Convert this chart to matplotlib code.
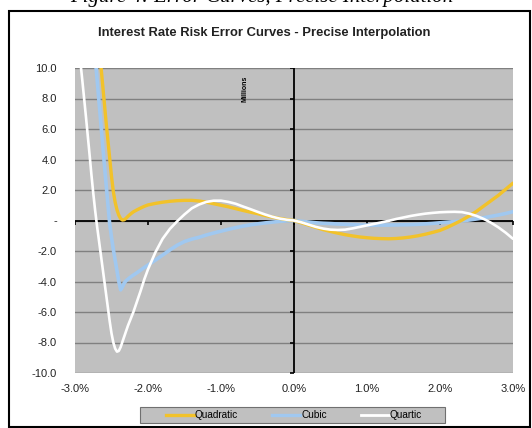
import matplotlib
matplotlib.use("Agg")
import matplotlib.pyplot as plt
from matplotlib.patches import Rectangle
from matplotlib.lines import Line2D

x_pct = [-3.00, -2.95, -2.90, -2.85,
         -2.800, -2.775, -2.750, -2.725, -2.700, -2.675, -2.650, -2.625, -2.600,
         -2.575, -2.550, -2.525, -2.500, -2.475, -2.450, -2.425, -2.400, -2.375,
         -2.350, -2.325, -2.300, -2.275, -2.250, -2.225, -2.200,
         -2.15, -2.10, -2.05,
         -2.00, -1.90, -1.80, -1.70, -1.60, -1.50, -1.40, -1.30, -1.20, -1.10,
         -1.00, -0.90, -0.80, -0.70, -0.60, -0.50, -0.40, -0.30, -0.20, -0.10,
         0.00, 0.10, 0.20, 0.30, 0.40, 0.50, 0.60, 0.70, 0.80, 0.90,
         1.00, 1.10, 1.20, 1.30, 1.40, 1.50, 1.60, 1.70, 1.80, 1.90,
         2.00, 2.10, 2.20, 2.30, 2.40, 2.50, 2.60, 2.70, 2.80, 2.90,
         3.00]

# Error (millions)
quadratic = [27.0, 24.5, 22.0, 19.5,
             17.0, 16.0, 14.9, 13.8, 12.7, 11.5, 10.4, 9.1, 7.8,
             6.5, 5.3, 4.1, 2.9, 1.9, 1.2, 0.7, 0.35, 0.12,
             0.03, 0.05, 0.15, 0.27, 0.38, 0.48, 0.57,
             0.7, 0.82, 0.93,
             1.02, 1.12, 1.2, 1.26, 1.3, 1.32, 1.32, 1.28, 1.2, 1.1,
             1.0, 0.9, 0.78, 0.66, 0.55, 0.45, 0.33, 0.23, 0.14, 0.06,
             0.0, -0.15, -0.3, -0.45, -0.6, -0.72, -0.83, -0.93, -1.01, -1.08,
             -1.13, -1.17, -1.19, -1.2, -1.18, -1.14, -1.08, -1.0, -0.9, -0.78,
             -0.65, -0.45, -0.22, 0.02, 0.3, 0.6, 0.95, 1.3, 1.65, 2.05,
             2.45]

cubic = [24.0, 21.5, 19.0, 16.7,
         15.0, 13.6, 12.2, 10.8, 9.4, 8.0, 6.6, 5.2, 3.8,
         2.45, 1.1, -0.2, -1.1, -1.9, -2.6, -3.3, -4.0, -4.55,
         -4.35, -4.1, -3.95, -3.85, -3.75, -3.66, -3.58,
         -3.42, -3.25, -3.08,
         -2.92, -2.6, -2.27, -1.93, -1.62, -1.38, -1.22, -1.1, -0.95, -0.82,
         -0.7, -0.58, -0.47, -0.37, -0.29, -0.22, -0.16, -0.11, -0.06, -0.02,
         0.0, -0.05, -0.1, -0.15, -0.18, -0.2, -0.23, -0.25, -0.27, -0.29,
         -0.3, -0.3, -0.3, -0.3, -0.29, -0.28, -0.27, -0.25, -0.22, -0.19,
         -0.15, -0.11, -0.07, -0.02, 0.03, 0.1, 0.18, 0.27, 0.36, 0.46,
         0.58]

quartic = [14.0, 11.5, 9.2, 6.8,
           4.3, 3.0, 1.8, 0.7, -0.3, -1.2, -2.1, -3.0, -3.9,
           -4.8, -5.7, -6.6, -7.4, -8.0, -8.4, -8.6, -8.55, -8.3,
           -7.95, -7.6, -7.25, -6.9, -6.6, -6.3, -6.0,
           -5.3, -4.6, -3.85,
           -3.2, -2.1, -1.2, -0.55, -0.05, 0.4, 0.8, 1.05, 1.22, 1.3,
           1.3, 1.22, 1.1, 0.92, 0.75, 0.57, 0.4, 0.25, 0.13, 0.05,
           0.0, -0.12, -0.27, -0.42, -0.53, -0.6, -0.62, -0.6, -0.52, -0.42,
           -0.32, -0.22, -0.12, -0.02, 0.1, 0.2, 0.3, 0.38, 0.45, 0.5,
           0.54, 0.56, 0.57, 0.55, 0.45, 0.3, 0.1, -0.15, -0.45, -0.8,
           -1.2]

x_ticks = [-3, -2, -1, 0, 1, 2, 3]
x_labels = ["-3.0%", "-2.0%", "-1.0%", "0.0%", "1.0%", "2.0%", "3.0%"]
y_ticks = [10, 8, 6, 4, 2, 0, -2, -4, -6, -8, -10]
y_labels = ["10.0", "8.0", "6.0", "4.0", "2.0", "-", "-2.0", "-4.0", "-6.0", "-8.0", "-10.0"]

W, H = 532, 428
fig = plt.figure(figsize=(W / 100, H / 100), dpi=100)
plt.rcParams["font.family"] = ["Liberation Sans", "DejaVu Sans"]

# clipped caption of the document above the chart
fig.text(262 / W, 1 - 2 / H, "Figure 4: Error Curves, Precise Interpolation",
         ha="center", va="baseline", fontsize=15, style="italic",
         family=["Liberation Serif", "DejaVu Serif"])

# chart border
fig.add_artist(Rectangle((8.5 / W, 1 - 426.5 / H), (530 - 8.5) / W, (426.5 - 10.5) / H,
                         transform=fig.transFigure, fill=False, edgecolor="black", lw=1.5))

fig.text(264 / W, 1 - 33 / H, "Interest Rate Risk Error Curves - Precise Interpolation",
         ha="center", va="center", fontsize=9.4, fontweight="bold", color="#222222")

ax = fig.add_axes([75 / W, 1 - 373 / H, 438 / W, 305 / H])
ax.set_facecolor("#C0C0C0")
for s in ax.spines.values():
    s.set_visible(False)

ax.set_xlim(-3, 3)
ax.set_ylim(-10, 10)
ax.set_yticks(y_ticks)
ax.set_yticklabels(y_labels)
ax.set_xticks(x_ticks)
ax.set_xticklabels(x_labels)
ax.tick_params(length=0, labelsize=8, colors="#222222")
ax.tick_params(axis="y", pad=13)
ax.tick_params(axis="x", pad=8)
ax.yaxis.grid(True, color="#808080", lw=1.0)
ax.set_axisbelow(True)

# axes crossing at zero with tick marks
ax.axhline(0, color="black", lw=1.3, zorder=2)
ax.axvline(0, color="black", lw=1.3, zorder=2)
ax.plot(x_ticks, [0] * len(x_ticks), ls="none", marker=3, ms=3, mew=1.2, color="black", zorder=2)
ax.plot([0] * len(y_ticks), y_ticks, ls="none", marker=0, ms=3, mew=1.2, color="black", zorder=2)

c_quad, c_cub, c_quar = "#F2C22A", "#A0C8F0", "white"
ax.plot(x_pct, cubic, color=c_cub, lw=2.6, zorder=3, solid_capstyle="round", solid_joinstyle="round")
ax.plot(x_pct, quadratic, color=c_quad, lw=2.4, zorder=4, solid_capstyle="round", solid_joinstyle="round")
ax.plot(x_pct, quartic, color=c_quar, lw=1.9, zorder=5, solid_capstyle="round", solid_joinstyle="round")

ax.text(-0.67, 9.5, "Millions", rotation=90, ha="center", va="top", fontsize=5, fontweight="bold")

# legend box
fig.add_artist(Rectangle((140 / W, 1 - 423 / H), 305 / W, 16 / H, transform=fig.transFigure,
                         facecolor="#C0C0C0", edgecolor="#707070", lw=0.8))
handles = [Line2D([], [], color=c_quad, lw=2.4),
           Line2D([], [], color=c_cub, lw=2.4),
           Line2D([], [], color=c_quar, lw=2.0)]
fig.legend(handles, ["Quadratic", "Cubic", "Quartic"], ncol=3, loc="center",
           bbox_to_anchor=(294 / W, 1 - 415 / H), frameon=False, fontsize=7.2,
           handlelength=2.8, handletextpad=0.1, columnspacing=3.4, borderpad=0)

fig.savefig("out.png", dpi=100)
